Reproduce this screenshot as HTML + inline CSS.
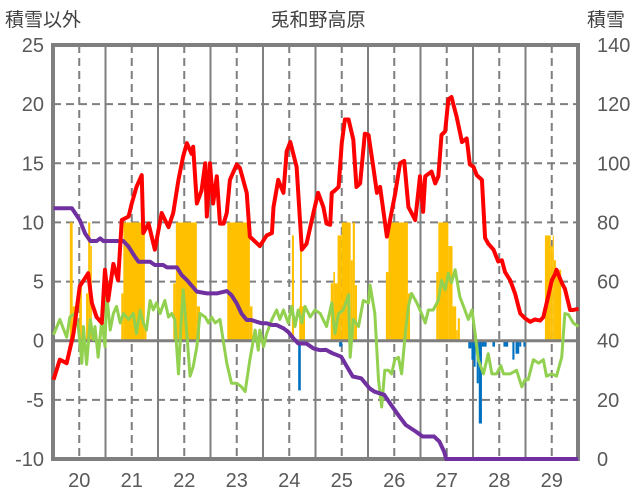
<!DOCTYPE html>
<html><head><meta charset="utf-8">
<style>
html,body{margin:0;padding:0;background:#fff;}
svg{display:block;font-family:"Liberation Sans","Noto Sans CJK JP",sans-serif;}
</style></head>
<body>
<svg id="chart" width="636" height="501" viewBox="0 0 636 501" xmlns="http://www.w3.org/2000/svg">
<g id="grid"></g>
<g id="bars"></g>
<g id="frame"></g>
<g id="lines"></g>
<g id="labels"></g>
<text x="5" y="26" font-size="19" fill="#404040">積雪以外</text>
<text x="318" y="26" font-size="19" fill="#404040" text-anchor="middle">兎和野高原</text>
<text x="587" y="26" font-size="19" fill="#404040">積雪</text>
</svg>
<script>
const xTicks=[20,21,22,23,24,25,26,27,28,29];
const leftTicks=[25,20,15,10,5,0,-5,-10];
const rightTicks=[140,120,100,80,60,40,20,0];
const redX=[19.51,19.63,19.76,19.89,20.01,20.17,20.24,20.33,20.43,20.49,20.55,20.65,20.74,20.81,20.94,21.0,21.09,21.19,21.22,21.32,21.44,21.57,21.70,21.79,21.89,21.98,22.05,22.14,22.17,22.24,22.33,22.40,22.43,22.49,22.55,22.62,22.68,22.75,22.81,22.87,23.0,23.06,23.19,23.25,23.44,23.57,23.67,23.70,23.79,23.89,23.95,24.02,24.14,24.24,24.33,24.46,24.55,24.65,24.71,24.78,24.81,24.87,24.94,25.0,25.06,25.13,25.22,25.28,25.35,25.44,25.51,25.60,25.67,25.73,25.86,25.92,26.02,26.11,26.19,26.27,26.40,26.49,26.55,26.59,26.71,26.78,26.84,26.90,26.97,27.03,27.09,27.19,27.29,27.38,27.44,27.51,27.57,27.67,27.73,27.79,27.89,27.98,28.05,28.11,28.21,28.30,28.40,28.49,28.59,28.68,28.78,28.84,28.93,29.0,29.06,29.09,29.19,29.25,29.35,29.41,29.51];
const redV=[-3.3,-1.6,-1.9,0.6,4.6,5.7,3.2,2.0,1.5,6.0,3.4,6.5,5.1,10.2,10.5,11.6,13.0,14.0,9.1,9.9,7.7,10.8,9.6,10.8,13.6,15.6,16.7,15.8,16.4,11.6,12.7,15.0,10.5,15.0,11.6,13.9,9.9,9.9,10.8,13.6,14.9,14.6,12.5,8.8,8.0,8.9,9.1,11.3,13.6,12.5,16.0,16.8,14.7,7.7,8.2,10.8,12.5,11.3,9.9,9.8,12.5,12.7,13.0,16.7,18.7,18.7,17.0,13.0,13.3,17.5,17.4,14.7,12.5,13.0,8.8,10.2,12.5,15.0,15.2,11.3,10.2,13.9,10.9,13.9,14.3,13.3,13.9,17.4,17.7,20.4,20.6,18.9,16.8,17.1,14.9,14.7,14.0,13.6,8.7,8.2,7.7,6.7,6.8,5.8,5.1,4.0,2.3,1.9,1.6,1.8,1.7,2.0,3.7,5.1,5.6,6.0,4.9,4.4,2.6,2.6,2.7];
const greenX=[19.51,19.63,19.76,19.82,19.92,19.98,20.05,20.08,20.14,20.21,20.27,20.30,20.36,20.43,20.49,20.52,20.59,20.65,20.71,20.78,20.84,20.94,21.03,21.09,21.16,21.22,21.28,21.35,21.41,21.47,21.54,21.63,21.70,21.76,21.82,21.89,21.95,21.98,22.05,22.11,22.17,22.24,22.30,22.40,22.46,22.52,22.59,22.68,22.75,22.81,22.90,23.0,23.09,23.16,23.25,23.35,23.41,23.44,23.51,23.57,23.67,23.76,23.82,23.89,23.98,24.05,24.11,24.17,24.24,24.30,24.40,24.49,24.59,24.71,24.81,24.87,24.94,25.03,25.13,25.16,25.22,25.32,25.41,25.51,25.54,25.63,25.70,25.76,25.82,25.89,25.95,26.01,26.08,26.14,26.21,26.27,26.33,26.43,26.52,26.59,26.65,26.74,26.84,26.90,26.97,27.03,27.09,27.16,27.25,27.32,27.41,27.48,27.54,27.60,27.70,27.79,27.86,27.95,28.03,28.08,28.21,28.33,28.43,28.49,28.55,28.65,28.75,28.84,28.90,29.0,29.09,29.19,29.25,29.32,29.41,29.51];
const greenV=[0.5,1.8,0.3,2.0,2.3,1.2,-1.9,1.2,-2.0,1.8,0.1,1.2,-1.4,1.8,-0.5,4.0,0.9,2.3,2.9,1.5,2.3,1.8,2.3,0.6,2.6,1.5,0.9,3.4,2.6,3.2,2.3,3.4,2.0,2.3,1.8,-2.8,2.3,4.3,0.6,-3.0,-2.2,-0.5,2.3,2.0,1.5,2.0,1.5,1.8,-0.2,-1.9,-3.6,-3.6,-3.9,-4.3,-1.6,0.9,-0.8,0.9,-0.5,0.6,1.8,2.6,1.8,2.6,1.5,2.9,1.2,2.6,1.5,2.9,2.0,2.6,2.3,1.2,3.2,0.6,2.3,2.6,3.9,-1.4,1.8,1.2,3.4,3.2,4.7,2.3,-3.3,-5.6,-2.5,-2.5,-2.8,-1.6,-1.4,-2.8,0.6,2.9,4.0,3.2,2.3,1.5,2.6,2.6,3.4,5.1,4.3,5.7,4.9,6.0,3.7,2.9,1.8,2.6,0.6,-1.6,-2.8,-1.1,-2.8,-2.8,-2.1,-2.8,-2.8,-2.5,-3.9,-3.3,-3.3,-1.6,-1.9,-1.6,-3.0,-2.8,-3.0,-1.4,2.3,2.2,1.5,1.2];
const snowX=[19.51,19.86,20.01,20.11,20.21,20.33,20.40,20.46,20.84,20.94,21.06,21.13,21.35,21.44,21.60,21.67,21.86,21.95,22.05,22.24,22.43,22.62,22.81,22.90,23.0,23.09,23.19,23.28,23.38,23.48,23.57,23.67,23.76,23.89,23.98,24.08,24.17,24.33,24.46,24.59,24.70,24.83,24.99,25.08,25.21,25.37,25.53,25.62,25.81,25.94,26.10,26.22,26.41,26.54,26.76,26.86,26.95,26.99,29.5];
const snowV=[84.8,84.8,80.8,76.3,73.7,73.7,74.6,73.7,73.7,71.8,68.4,66.7,66.7,65.6,65.6,64.8,64.8,62.2,60.5,56.6,56.0,56.0,56.8,55.4,52.6,49.2,47.0,47.0,46.4,45.9,45.9,45.3,45.3,44.2,43.0,40.8,39.1,39.0,37.4,36.8,36.9,35.7,34.6,31.8,27.9,27.3,23.9,22.8,21.7,18.3,14.3,11.5,9.3,7.6,7.6,5.9,2.5,0,0];
const posStart=[19.82,19.875,20.0,20.13,20.17,20.21,20.80,20.84,21.25,21.79,21.84,22.24,22.82,23.25,24.05,24.19,24.205,24.24,24.79,24.84,24.87,24.92,25.0,25.17,25.21,25.25,25.84,25.89,26.26,26.80,26.84,27.03,27.11,27.18,27.21,28.87,28.98,29.02,29.04,29.08];
const posEnd=[19.875,19.92,20.05,20.17,20.21,20.24,20.84,21.25,21.28,21.84,22.24,22.30,23.25,23.30,24.09,24.30,24.24,24.30,24.84,24.87,24.92,25.0,25.17,25.21,25.25,25.29,25.89,26.26,26.30,26.84,27.03,27.11,27.18,27.21,27.25,28.98,29.02,29.04,29.08,29.18];
const posV=[10,2.9,4.85,4,10,8,4,10,0.9,4.85,10,2.9,10,2.9,8.9,2.9,8.2,2.9,4.85,5.8,4.85,8.9,10,6.8,10,4.7,5.8,10,4,5.8,10,8,2.9,0.9,1.9,8.9,8,8.9,6.8,6];
const negStart=[24.17,24.95,27.41,27.47,27.51,27.57,27.61,27.67,27.71,27.87,28.08,28.25,28.31,28.38,28.46];
const negEnd=[24.22,25.01,27.47,27.51,27.55,27.61,27.67,27.71,27.76,27.92,28.17,28.29,28.38,28.42,28.50];
const negV=[-4.2,-0.5,-0.65,-1.6,-2.2,-3.6,-7.0,-0.5,-0.5,-0.5,-0.5,-1.6,-1.1,-0.5,-0.5];

const L=53,R=578,T=45,B=459;
const xs=u=>L+(u-19.5)*(R-L)/10;
const yl=v=>T+(25-v)*(B-T)/35;
const yr=w=>T+(140-w)*(B-T)/140;
const NS="http://www.w3.org/2000/svg";
function mk(tag,parent,attrs){const e=document.createElementNS(NS,tag);for(const k in attrs)e.setAttribute(k,attrs[k]);document.getElementById(parent).appendChild(e);return e;}

leftTicks.forEach(t=>{
  if(t===25||t===-10||t===0)return;
  const g=mk('line','grid',{x1:L,x2:R,y1:yl(t),y2:yl(t),stroke:'#7f7f7f','stroke-width':2,'stroke-dasharray':'8,5'});
  
  
});
xTicks.forEach(t=>{
  const d=mk('line','grid',{x1:xs(t),x2:xs(t),y1:T,y2:B,stroke:'#7f7f7f','stroke-width':2,'stroke-dasharray':'8,5'});
  
  
  if(t<29){
    const s=mk('line','grid',{x1:xs(t+0.5),x2:xs(t+0.5),y1:T,y2:B,stroke:'#7f7f7f','stroke-width':2});
    
    
  }
});
posV.forEach((v,i)=>{
  const r=mk('rect','bars',{x:xs(posStart[i]),y:yl(v),width:Math.max(1,xs(posEnd[i])-xs(posStart[i])),height:yl(0)-yl(v),fill:'#ffc000'});
  
  
});
negV.forEach((v,i)=>{
  const r=mk('rect','bars',{x:xs(negStart[i]),y:yl(0),width:Math.max(1,xs(negEnd[i])-xs(negStart[i])),height:yl(v)-yl(0),fill:'#0070c0'});
  
  
});
const z=mk('line','bars',{x1:L,x2:R,y1:yl(0),y2:yl(0),stroke:'#7f7f7f','stroke-width':3});


const fr=mk('rect','frame',{x:L,y:T,width:R-L,height:B-T,fill:'none',stroke:'#7f7f7f','stroke-width':4});


function poly(X,V,f,color,w){
  return mk('polyline','lines',{points:X.map((u,i)=>xs(u)+','+f(V[i])).join(' '),fill:'none',stroke:color,'stroke-width':w,'stroke-linejoin':'round'});
}
const g1=poly(greenX,greenV,yl,'#92d050',3);


const p1=poly(snowX,snowV,yr,'#7030a0',4);


const r1=poly(redX,redV,yl,'#ff0000',4);


leftTicks.forEach(t=>{
  const e=mk('text','labels',{x:44,y:yl(t)+7,'font-size':20,fill:'#595959','text-anchor':'end'});
  e.textContent=t;
  
  
});
rightTicks.forEach(t=>{
  const e=mk('text','labels',{x:597,y:yr(t)+7,'font-size':20,fill:'#595959'});
  e.textContent=t;
  
  
});
xTicks.forEach(t=>{
  const e=mk('text','labels',{x:xs(t),y:487,'font-size':20,fill:'#595959','text-anchor':'middle'});
  e.textContent=t;
  
  
});
</script>
</body></html>
